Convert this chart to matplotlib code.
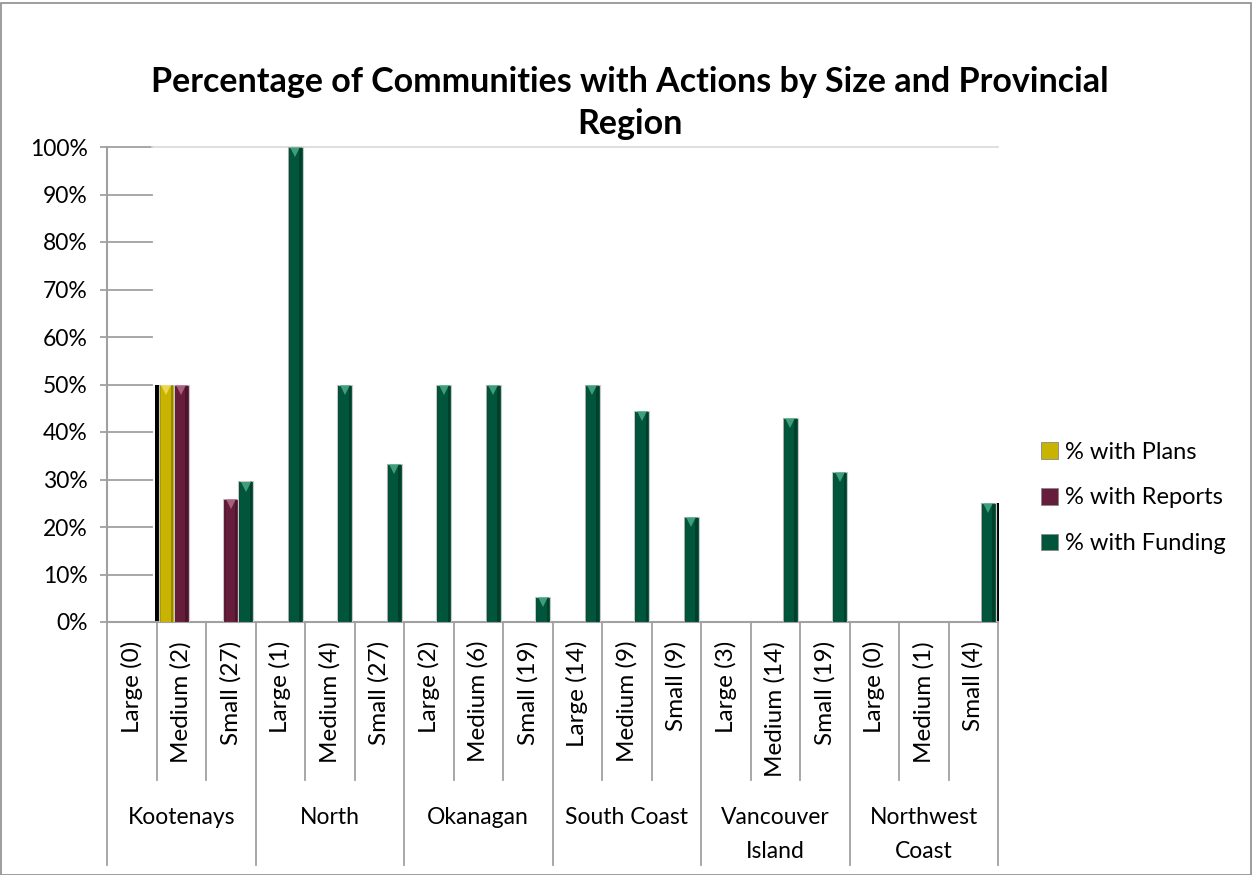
import matplotlib
matplotlib.use('Agg')
import matplotlib.pyplot as plt
import matplotlib.transforms as mtransforms
from matplotlib.patches import Patch, Rectangle
from matplotlib.ticker import PercentFormatter, MultipleLocator

plt.rcParams['font.family'] = ['Lato', 'DejaVu Sans']

sizes = ['Large (0)', 'Medium (2)', 'Small (27)',
         'Large (1)', 'Medium (4)', 'Small (27)',
         'Large (2)', 'Medium (6)', 'Small (19)',
         'Large (14)', 'Medium (9)', 'Small (9)',
         'Large (3)', 'Medium (14)', 'Small (19)',
         'Large (0)', 'Medium (1)', 'Small (4)']
regions = ['Kootenays', 'North', 'Okanagan', 'South Coast',
           'Vancouver\nIsland', 'Northwest\nCoast']

pct_plans = [0, 50, 0,  0, 0, 0,  0, 0, 0,  0, 0, 0,  0, 0, 0,  0, 0, 0]
pct_reports = [0, 50, 25.9,  0, 0, 0,  0, 0, 0,  0, 0, 0,  0, 0, 0,  0, 0, 0]
pct_funding = [0, 0, 29.6,  100, 50, 33.3,  50, 50, 5.3,  50, 44.4, 22.2,
               0, 42.9, 31.6,  0, 0, 25]

series = [('% with Plans', pct_plans, '#C8B400', '#F2E25A'),
          ('% with Reports', pct_reports, '#661D3B', '#B8708E'),
          ('% with Funding', pct_funding, '#00553A', '#4FB08C')]

W, H = 1253, 875
fig = plt.figure(figsize=(W / 100, H / 100), dpi=100)
ax = fig.add_axes([107 / W, 1 - 622 / H, (998 - 107) / W, (622 - 147) / H])

n = len(sizes)
bw = 0.3
xs = list(range(n))
fs = 16.5

for j, (name, vals, col, hi) in enumerate(series):
    pos = [x + (j - 1) * bw for x in xs]
    ax.bar(pos, vals, width=bw, color=col, edgecolor='#C8C8C8', linewidth=0.8, zorder=3)
    # dark side strips to give the bars a bevelled look
    for p, v in zip(pos, vals):
        if v <= 0:
            continue
        ax.bar(p + bw * 0.36, v, width=bw * 0.16, color='black', alpha=0.25,
               linewidth=0, zorder=4)
        ax.bar(p - bw * 0.40, v, width=bw * 0.1, color='black', alpha=0.15,
               linewidth=0, zorder=4)
        ax.plot(p, v - 1.1, marker='v', markersize=7, color=hi, alpha=0.8,
                markeredgewidth=0, zorder=5)

# shadow edges on the outermost bars
ax.bar(1 - bw - bw * 0.55, pct_plans[1], width=bw * 0.42, color='black', zorder=2,
       clip_on=False)
ax.bar(17 + bw + bw * 0.6, pct_funding[17], width=bw * 0.3, color='black', zorder=2,
       clip_on=False)

ax.set_xlim(-0.5, n - 0.5)
ax.set_ylim(0, 100)
ax.yaxis.set_major_locator(MultipleLocator(10))
ax.yaxis.set_major_formatter(PercentFormatter(decimals=0))
ax.tick_params(axis='y', length=5, width=1.3, color='#A0A0A0', labelsize=fs, pad=9)
ax.set_xticks([])

for s in ['top', 'right']:
    ax.spines[s].set_visible(False)
ax.spines['left'].set_color('#A0A0A0')
ax.spines['left'].set_linewidth(1.5)
ax.spines['bottom'].set_color('#A0A0A0')
ax.spines['bottom'].set_linewidth(1.5)

# short gridlines next to the value axis and the full 100% line
ytrans = mtransforms.blended_transform_factory(ax.transAxes, ax.transData)
for t in range(10, 101, 10):
    ax.plot([0, 0.051], [t, t], transform=ytrans, color='#A0A0A0', lw=1.3,
            clip_on=False, zorder=1)
ax.plot([0.051, 1], [100, 100], transform=ytrans, color='#D9D9D9', lw=1.2,
        clip_on=False, zorder=1)

# category labels and separators below the axis
xtrans = mtransforms.blended_transform_factory(ax.transData, ax.transAxes)
ah = 622 - 147
for i, lab in enumerate(sizes):
    ax.text(i, -19 / ah, lab, rotation=90, ha='center', va='top', fontsize=17.5,
            transform=xtrans)
for k in range(n + 1):
    bottom = -243 / ah if k % 3 == 0 else -158 / ah
    ax.plot([k - 0.5, k - 0.5], [0, bottom], transform=xtrans, color='#A0A0A0',
            lw=1.3, clip_on=False)
for r, reg in enumerate(regions):
    ax.text(3 * r + 1, -185 / ah, reg, ha='center', va='top', fontsize=fs,
            linespacing=1.75, transform=xtrans)

handles = [Patch(facecolor=c, edgecolor='#888888', linewidth=0.6) for _, _, c, _ in series]
fig.legend(handles, [s[0] for s in series], loc='center left',
           bbox_to_anchor=(1020 / W, 1 - 498 / H), frameon=False, fontsize=17,
           handlelength=0.7, handleheight=0.7, handletextpad=0.3, labelspacing=1.05)

fig.text(630 / W, 1 - 103 / H,
         'Percentage of Communities with Actions by Size and Provincial\nRegion',
         ha='center', va='center', fontsize=24.5, fontweight='bold', linespacing=1.4)

fig.patches.append(Rectangle((1 / W, 0), 1 - 3 / W, 1 - 3 / H, transform=fig.transFigure,
                             fill=False, edgecolor='#8C8C8C', lw=1.2))

fig.savefig('out.png', dpi=100)
